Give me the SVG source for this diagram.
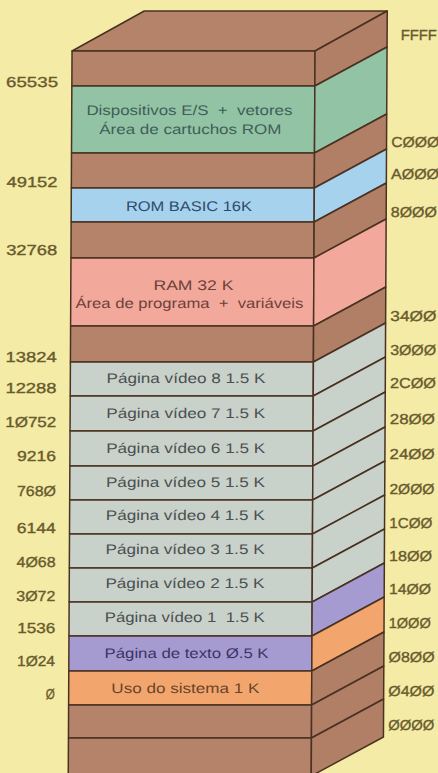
<svg xmlns="http://www.w3.org/2000/svg" width="438" height="773" viewBox="0 0 438 773">
<style>
.bg{fill:#F4EBA6}
.ln{stroke:#4A3222;stroke-width:1.5;stroke-linejoin:round}
.br{fill:#B4836A}
.brs{fill:#B07F66}
.gr{fill:#93C3A5}
.bl{fill:#A6D2EE}
.pk{fill:#F2A99B}
.gy{fill:#C9D1CB}
.pu{fill:#A59BD0}
.or{fill:#F2A66E}
text{font-family:"Liberation Sans",Arial,sans-serif}
.lab{font-size:14.5px;fill:#685A2C;stroke:#685A2C;stroke-width:0.35}
.in{font-size:14px;text-anchor:middle}
</style>
<rect class="bg" x="0" y="0" width="438" height="773"/>
<g transform="skewX(-0.3)">
<g id="top-face"><polygon class="br ln" points="72.3,51 144.3,11 387.3,11 315.3,51"/></g>
<g id="band-top">
<rect class="br ln" x="72.3" y="51" width="243" height="35"/>
<polygon class="brs ln" points="315.3,51 387.3,11 387.3,47 315.3,86"/>
</g>
<g id="band-es">
<rect class="gr ln" x="72.3" y="86" width="243" height="67"/>
<polygon class="gr ln" points="315.3,86 387.3,47 387.3,114 315.3,153"/>
<text class="in" x="190" y="115" textLength="206" lengthAdjust="spacingAndGlyphs" fill="#3E5E58" xml:space="preserve">Dispositivos E/S  +  vetores</text>
<text class="in" x="191" y="134" textLength="182" lengthAdjust="spacingAndGlyphs" fill="#3E5E58">Área de cartuchos ROM</text>
</g>
<g id="band-b2">
<rect class="br ln" x="72.3" y="153" width="243" height="35"/>
<polygon class="brs ln" points="315.3,153 387.3,114 387.3,149 315.3,188"/>
</g>
<g id="band-rombasic">
<rect class="bl ln" x="72.3" y="188" width="243" height="34"/>
<polygon class="bl ln" points="315.3,188 387.3,149 387.3,183 315.3,222"/>
<text class="in" x="190" y="211" textLength="126" lengthAdjust="spacingAndGlyphs" fill="#2E4A6A">ROM BASIC 16K</text>
</g>
<g id="band-b3">
<rect class="br ln" x="72.3" y="222" width="243" height="36"/>
<polygon class="brs ln" points="315.3,222 387.3,183 387.3,219 315.3,258"/>
</g>
<g id="band-ram">
<rect class="pk ln" x="72.3" y="258" width="243" height="68"/>
<polygon class="pk ln" points="315.3,258 387.3,219 387.3,287 315.3,326"/>
<text class="in" x="195" y="290" textLength="80" lengthAdjust="spacingAndGlyphs" fill="#6E4038">RAM 32 K</text>
<text class="in" x="191" y="308" textLength="228" lengthAdjust="spacingAndGlyphs" fill="#6E4038" xml:space="preserve">Área de programa  +  variáveis</text>
</g>
<g id="band-b4">
<rect class="br ln" x="72.3" y="326" width="243" height="36"/>
<polygon class="brs ln" points="315.3,326 387.3,287 387.3,323 315.3,362"/>
</g>
<g id="video8">
<rect class="gy ln" x="72.3" y="362" width="243" height="34"/>
<polygon class="gy ln" points="315.3,362 387.3,323 387.3,357 315.3,396"/>
<text class="in" x="188" y="383" textLength="159" lengthAdjust="spacingAndGlyphs" fill="#4A4F4F">Página vídeo 8 1.5 K</text>
</g>
<g id="video7">
<rect class="gy ln" x="72.3" y="396" width="243" height="35"/>
<polygon class="gy ln" points="315.3,396 387.3,357 387.3,392 315.3,431"/>
<text class="in" x="188" y="418" textLength="159" lengthAdjust="spacingAndGlyphs" fill="#4A4F4F">Página vídeo 7 1.5 K</text>
</g>
<g id="video6">
<rect class="gy ln" x="72.3" y="431" width="243" height="35"/>
<polygon class="gy ln" points="315.3,431 387.3,392 387.3,427 315.3,466"/>
<text class="in" x="188" y="453" textLength="159" lengthAdjust="spacingAndGlyphs" fill="#4A4F4F">Página vídeo 6 1.5 K</text>
</g>
<g id="video5">
<rect class="gy ln" x="72.3" y="466" width="243" height="34"/>
<polygon class="gy ln" points="315.3,466 387.3,427 387.3,461 315.3,500"/>
<text class="in" x="188" y="487" textLength="159" lengthAdjust="spacingAndGlyphs" fill="#4A4F4F">Página vídeo 5 1.5 K</text>
</g>
<g id="video4">
<rect class="gy ln" x="72.3" y="500" width="243" height="34"/>
<polygon class="gy ln" points="315.3,500 387.3,461 387.3,495 315.3,534"/>
<text class="in" x="188" y="520" textLength="159" lengthAdjust="spacingAndGlyphs" fill="#4A4F4F">Página vídeo 4 1.5 K</text>
</g>
<g id="video3">
<rect class="gy ln" x="72.3" y="534" width="243" height="34"/>
<polygon class="gy ln" points="315.3,534 387.3,495 387.3,529 315.3,568"/>
<text class="in" x="188" y="554" textLength="159" lengthAdjust="spacingAndGlyphs" fill="#4A4F4F">Página vídeo 3 1.5 K</text>
</g>
<g id="video2">
<rect class="gy ln" x="72.3" y="568" width="243" height="34"/>
<polygon class="gy ln" points="315.3,568 387.3,529 387.3,563 315.3,602"/>
<text class="in" x="188" y="588" textLength="159" lengthAdjust="spacingAndGlyphs" fill="#4A4F4F">Página vídeo 2 1.5 K</text>
</g>
<g id="video1">
<rect class="gy ln" x="72.3" y="602" width="243" height="34"/>
<polygon class="pu ln" points="315.3,602 387.3,563 387.3,597 315.3,636"/>
<text class="in" x="188" y="622" textLength="160" lengthAdjust="spacingAndGlyphs" fill="#4A4F4F" xml:space="preserve">Página vídeo 1  1.5 K</text>
</g>
<g id="texto">
<rect class="pu ln" x="72.3" y="636" width="243" height="35"/>
<polygon class="or ln" points="315.3,636 387.3,597 387.3,632 315.3,671"/>
<text class="in" x="190" y="658" textLength="164" lengthAdjust="spacingAndGlyphs" fill="#3C3466">Página de texto Ø.5 K</text>
</g>
<g id="sistema">
<rect class="or ln" x="72.3" y="671" width="243" height="34"/>
<polygon class="brs ln" points="315.3,671 387.3,632 387.3,666 315.3,705"/>
<text class="in" x="189" y="693" textLength="148" lengthAdjust="spacingAndGlyphs" fill="#6A4428">Uso do sistema 1 K</text>
</g>
<g id="band-b5">
<rect class="br ln" x="72.3" y="705" width="243" height="33"/>
<polygon class="brs ln" points="315.3,705 387.3,666 387.3,699 315.3,738"/>
</g>
<g id="band-b6">
<rect class="br ln" x="72.3" y="738" width="243" height="40"/>
<polygon class="brs ln" points="315.3,738 387.3,699 387.3,737 315.3,776"/>
</g>
<g id="labels-dec" class="lab" text-anchor="end">
<text x="58.5" y="87" textLength="52" lengthAdjust="spacingAndGlyphs">65535</text>
<text x="58.5" y="187" textLength="51" lengthAdjust="spacingAndGlyphs">49152</text>
<text x="58.5" y="255" textLength="51" lengthAdjust="spacingAndGlyphs">32768</text>
<text x="58.5" y="362" textLength="51" lengthAdjust="spacingAndGlyphs">13824</text>
<text x="58.5" y="393" textLength="51" lengthAdjust="spacingAndGlyphs">12288</text>
<text x="58.5" y="427" textLength="51" lengthAdjust="spacingAndGlyphs">1Ø752</text>
<text x="58.5" y="461" textLength="39" lengthAdjust="spacingAndGlyphs">9216</text>
<text x="58.5" y="496" textLength="39" lengthAdjust="spacingAndGlyphs">768Ø</text>
<text x="58.5" y="533" textLength="39" lengthAdjust="spacingAndGlyphs">6144</text>
<text x="58.5" y="567" textLength="39" lengthAdjust="spacingAndGlyphs">4Ø68</text>
<text x="58.5" y="601" textLength="39" lengthAdjust="spacingAndGlyphs">3Ø72</text>
<text x="58.5" y="633" textLength="38" lengthAdjust="spacingAndGlyphs">1536</text>
<text x="58.5" y="666" textLength="38" lengthAdjust="spacingAndGlyphs">1Ø24</text>
<text x="58.5" y="699" textLength="9" lengthAdjust="spacingAndGlyphs">Ø</text>
</g>
<g id="labels-hex" class="lab">
<text x="401" y="40" textLength="36" lengthAdjust="spacingAndGlyphs">FFFF</text>
<text x="392" y="147" textLength="48" lengthAdjust="spacingAndGlyphs">CØØØ</text>
<text x="392" y="179" textLength="48" lengthAdjust="spacingAndGlyphs">AØØØ</text>
<text x="392" y="217" textLength="46" lengthAdjust="spacingAndGlyphs">8ØØØ</text>
<text x="392" y="321" textLength="46" lengthAdjust="spacingAndGlyphs">34ØØ</text>
<text x="392" y="355" textLength="46" lengthAdjust="spacingAndGlyphs">3ØØØ</text>
<text x="392" y="388" textLength="46" lengthAdjust="spacingAndGlyphs">2CØØ</text>
<text x="392" y="424" textLength="45" lengthAdjust="spacingAndGlyphs">28ØØ</text>
<text x="392" y="459" textLength="45" lengthAdjust="spacingAndGlyphs">24ØØ</text>
<text x="392" y="494" textLength="45" lengthAdjust="spacingAndGlyphs">2ØØØ</text>
<text x="392" y="528" textLength="43" lengthAdjust="spacingAndGlyphs">1CØØ</text>
<text x="392" y="561" textLength="43" lengthAdjust="spacingAndGlyphs">18ØØ</text>
<text x="392" y="594" textLength="42" lengthAdjust="spacingAndGlyphs">14ØØ</text>
<text x="392" y="628" textLength="42" lengthAdjust="spacingAndGlyphs">1ØØØ</text>
<text x="392" y="662" textLength="46" lengthAdjust="spacingAndGlyphs">Ø8ØØ</text>
<text x="392" y="696" textLength="46" lengthAdjust="spacingAndGlyphs">Ø4ØØ</text>
<text x="392" y="730" textLength="46" lengthAdjust="spacingAndGlyphs">ØØØØ</text>
</g>
</g>
</svg>
